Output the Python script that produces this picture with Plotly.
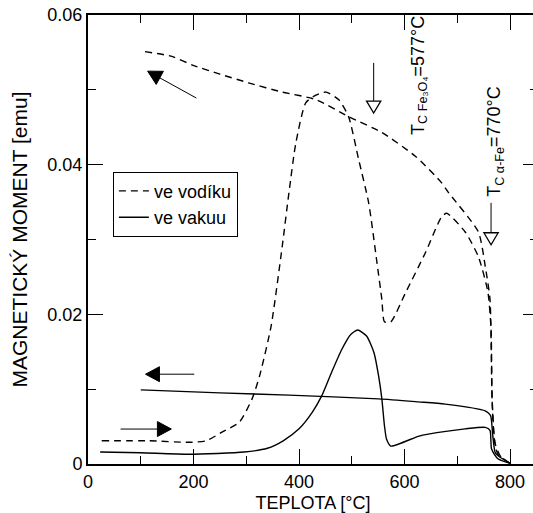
import math
import plotly.graph_objects as go

# ---------------- data ----------------
# hydrogen atmosphere ("ve vodíku"), heating
h2_heat_T = [26, 117, 192, 224, 255, 287, 311, 325, 347, 368, 381, 394, 413, 432, 451,
             475, 494, 513, 532, 547, 557, 562, 574, 602, 640, 670, 680, 715, 740, 758,
             764, 766, 770, 777, 800]
h2_heat_M = [0.0031, 0.0031, 0.0029, 0.0031, 0.0043, 0.0056, 0.0087, 0.0117, 0.0184, 0.0290,
             0.0363, 0.0429, 0.0483, 0.0493, 0.0497, 0.0487, 0.0464, 0.0407, 0.0349, 0.0273,
             0.0220, 0.0190, 0.0190, 0.0229, 0.0283, 0.0330, 0.0335, 0.0310, 0.0277, 0.0230,
             0.0180, 0.0087, 0.0033, 0.0013, 0.0001]
# hydrogen atmosphere, cooling
h2_cool_T = [108, 157, 202, 250, 306, 368, 432, 494, 557, 621, 670, 683, 740, 753, 762,
             766, 772, 783, 800]
h2_cool_M = [0.0551, 0.0545, 0.0532, 0.0521, 0.0509, 0.0497, 0.0487, 0.0464, 0.0443, 0.0411,
             0.0376, 0.0363, 0.0310, 0.0264, 0.0220, 0.0087, 0.0027, 0.0009, 0.0001]
# vacuum ("ve vakuu"), heating
vac_heat_T = [23, 100, 192, 296, 340, 370, 400, 425, 443, 462, 481, 498, 511, 528,
              542, 551, 557, 562, 566, 574, 626, 645, 715, 753, 762, 765, 777, 800]
vac_heat_M = [0.0016, 0.0015, 0.0013, 0.0016, 0.0021, 0.0031, 0.0047, 0.0069, 0.0091,
              0.0123, 0.0153, 0.0173, 0.0179, 0.0171, 0.0149, 0.0117, 0.0087, 0.0051, 0.0033,
              0.0024, 0.0037, 0.0040, 0.0047, 0.0049, 0.0045, 0.0020, 0.0007, 0.0001]
# vacuum, cooling
vac_cool_T = [100, 250, 381, 551, 626, 677, 753, 763, 767, 772, 781, 800]
vac_cool_M = [0.0099, 0.0095, 0.0092, 0.0087, 0.0083, 0.0080, 0.0071, 0.0065, 0.0040, 0.0015,
              0.0009, 0.0001]

x_tickvals = [0, 200, 400, 600, 800]
y_tickvals = [0, 0.02, 0.04, 0.06]
series_names = ["ve vodíku", "ve vakuu"]
x_title = "TEPLOTA [°C]"
y_title = "MAGNETICKÝ MOMENT [emu]"
label_fe3o4 = "T<sub>C Fe₃O₄</sub>=577°C"
label_fe = "T<sub>C α-Fe</sub>=770°C"

# annotation anchor points (data coordinates) and tail offsets (pixels, screen y down)
arrow_tips = [(113, 0.0525), (109, 0.0120), (158, 0.00467)]
arrow_tails_px = [(49, 27), (49, 0), (-51, 0)]
tc_markers = [(541.5, 0.0536, 0.0485, 0.0469), (764, 0.0349, 0.0309, 0.0293)]
tri_half = 13.5
label1_pos = (628, 0.0519)
label2_pos = (772, 0.0431)

FONT = "Liberation Sans, Arial, sans-serif"

# layout geometry
FIG_W, FIG_H = 540, 513
M_L, M_R, M_T, M_B = 88, 0, 15, 48
X_MAX, Y_MAX = 853, 0.06
PLOT_W = FIG_W - M_L - M_R
PLOT_H = FIG_H - M_T - M_B


def dx(px):
    return px * X_MAX / PLOT_W


def dy(px):  # screen pixels (down positive) -> data delta
    return -px * Y_MAX / PLOT_H


fig = go.Figure()
dash_style = "7px,5px"
lw = 1.4
fig.add_trace(go.Scatter(x=h2_heat_T, y=h2_heat_M, mode="lines", name=series_names[0],
                         line=dict(color="black", width=lw, dash=dash_style, shape="spline", smoothing=0.6),
                         legendgroup="h2"))
fig.add_trace(go.Scatter(x=h2_cool_T, y=h2_cool_M, mode="lines", name=series_names[0],
                         line=dict(color="black", width=lw, dash=dash_style, shape="spline", smoothing=0.6),
                         legendgroup="h2", showlegend=False))
fig.add_trace(go.Scatter(x=vac_heat_T, y=vac_heat_M, mode="lines", name=series_names[1],
                         line=dict(color="black", width=lw, shape="spline", smoothing=0.6),
                         legendgroup="vac"))
fig.add_trace(go.Scatter(x=vac_cool_T, y=vac_cool_M, mode="lines", name=series_names[1],
                         line=dict(color="black", width=lw, shape="spline", smoothing=0.6),
                         legendgroup="vac", showlegend=False))

# filled direction arrows (line + solid triangle head)
HEAD_L, HEAD_W = 14, 7.5
for (tx, ty), (ax, ay) in zip(arrow_tips, arrow_tails_px):
    n = math.hypot(ax, ay)
    ux, uy = -ax / n, -ay / n          # unit vector tail -> tip (screen)
    bx, by = -ux * HEAD_L, -uy * HEAD_L  # base centre offset from tip (screen)
    px_, py_ = -uy * HEAD_W, ux * HEAD_W  # perpendicular half width
    fig.add_shape(type="line", xref="x", yref="y",
                  x0=tx + dx(ax), y0=ty + dy(ay), x1=tx + dx(bx), y1=ty + dy(by),
                  line=dict(color="black", width=1))
    path = (f"M {tx},{ty} "
            f"L {tx + dx(bx + px_)},{ty + dy(by + py_)} "
            f"L {tx + dx(bx - px_)},{ty + dy(by - py_)} Z")
    fig.add_shape(type="path", xref="x", yref="y", path=path,
                  line=dict(color="black", width=1), fillcolor="black")

# open-triangle Curie-point markers
for xc, top, base, tip in tc_markers:
    fig.add_shape(type="line", x0=xc, x1=xc, y0=top, y1=base, xref="x", yref="y",
                  line=dict(color="black", width=1))
    fig.add_shape(type="path", xref="x", yref="y",
                  path=f"M {xc - tri_half},{base} L {xc + tri_half},{base} L {xc},{tip} Z",
                  line=dict(color="black", width=1.3), fillcolor="white")

fig.add_annotation(x=label1_pos[0], y=label1_pos[1], text=label_fe3o4, textangle=-90,
                   showarrow=False, font=dict(size=18, family=FONT, color="black"))
fig.add_annotation(x=label2_pos[0], y=label2_pos[1], text=label_fe, textangle=-90,
                   showarrow=False, font=dict(size=18, family=FONT, color="black"))

fig.update_layout(
    width=FIG_W, height=FIG_H,
    margin=dict(l=M_L, r=M_R, t=M_T, b=M_B),
    plot_bgcolor="white", paper_bgcolor="white",
    font=dict(family=FONT, size=18, color="black"),
    legend=dict(x=(113 - M_L) / PLOT_W, y=(PLOT_H + M_T - 172) / PLOT_H,
                xanchor="left", yanchor="top",
                bordercolor="black", borderwidth=1, bgcolor="white",
                font=dict(size=18, family=FONT, color="black"), tracegroupgap=0),
)
fig.update_xaxes(range=[0, X_MAX], tickmode="array", tickvals=x_tickvals,
                 ticks="inside", ticklen=15, tickwidth=1.3, tickcolor="black",
                 showline=True, linewidth=2, linecolor="black", mirror="allticks",
                 showgrid=False, zeroline=False,
                 minor=dict(tickmode="linear", tick0=0, dtick=100, ticks="inside", ticklen=8,
                            tickwidth=1.3, tickcolor="black", showgrid=False),
                 title=dict(text=x_title, font=dict(size=18, family=FONT), standoff=9))
fig.update_yaxes(range=[0, Y_MAX], tickmode="array", tickvals=y_tickvals,
                 ticks="inside", ticklen=15, tickwidth=1.3, tickcolor="black",
                 showline=True, linewidth=2, linecolor="black", mirror="allticks",
                 showgrid=False, zeroline=False,
                 minor=dict(tickmode="linear", tick0=0, dtick=0.01, ticks="inside", ticklen=8,
                            tickwidth=1.3, tickcolor="black", showgrid=False),
                 title=dict(text=y_title, font=dict(size=21, family=FONT), standoff=14))

fig.write_html(
    "out.html",
    config={"displayModeBar": False},
    post_script=("document.body.style.margin='0';"
                 "document.body.style.overflow='hidden';"
                 "document.documentElement.style.overflow='hidden';"),
)
